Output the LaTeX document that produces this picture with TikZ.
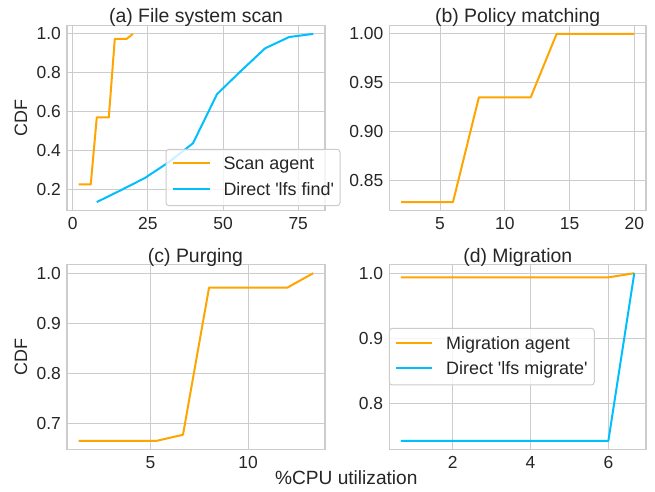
\documentclass[tikz,border=0pt]{standalone}
\usepackage{fontspec}
\setmainfont{Liberation Sans}

\definecolor{gridgray}{HTML}{CCCCCC}
\definecolor{txtgray}{HTML}{262626}
\definecolor{agentorange}{HTML}{FFA500}
\definecolor{directblue}{HTML}{00BFFF}

\begin{document}
\begin{tikzpicture}[
    x=1bp, y=1bp,
    gridline/.style={draw=gridgray, line width=1bp},
    axframe/.style={draw=gridgray, line width=1.25bp},
    agent/.style={draw=agentorange, line width=2bp, line join=round},
    direct/.style={draw=directblue, line width=2bp, line join=round},
    ticklbl/.style={inner sep=0pt, text=txtgray, font=\fontsize{17.5}{20}\selectfont},
    ytick/.style={ticklbl, anchor=east, xshift=-6bp},
    xtick/.style={ticklbl, anchor=base, yshift=-19.2bp},
    paneltitle/.style={inner sep=0pt, anchor=base, text=txtgray, font=\fontsize{19.5}{22}\selectfont},
    legendbox/.style={draw=gridgray, line width=1bp, fill=white, fill opacity=0.8, rounded corners=3bp},
    legendtxt/.style={inner sep=0pt, anchor=base west, text=txtgray, font=\fontsize{18}{21}\selectfont}
  ]
  \fill[white] (0,0) rectangle (655,492);
  \useasboundingbox (0,0) rectangle (655,492);

  % (a) file system scan, x in 0..80
  \begin{scope}[shift={(72.71,263.89)}, x=3.007bp, y=194.2bp]
    \foreach \gx in {0,25,50,75}
      \draw[gridline] (\gx,0.0907) -- (\gx,1.0433);
    \foreach \gy in {0.2,0.4,0.6,0.8,1.0}
      \draw[gridline] (-1.9,\gy) -- (83.9,\gy);
    \draw[axframe] (-1.9,0.0907) rectangle (83.9,1.0433);
    \foreach \gx [count=\i] in {0,25,50,75}
      \node[xtick] (ax\i) at (\gx,0.0907) {\gx};
    \foreach \gy [count=\i] in {0.2,0.4,0.6,0.8,1.0}
      \node[ytick] (ay\i) at (-1.9,\gy) {\gy};
    \draw[agent] (2,0.225) -- (6,0.225) -- (8,0.57) -- (12,0.57)
      -- (14,0.975) -- (18,0.975) -- (20,1.0);
    \draw[direct] (8,0.134) -- (16,0.195) -- (24,0.258) -- (32,0.34)
      -- (40,0.437) -- (48,0.69) -- (56,0.81) -- (64,0.926)
      -- (72,0.984) -- (80,1.0);
  \end{scope}

  % (b) policy matching
  \begin{scope}[shift={(375.25,-516.88)}, x=12.955bp, y=974.97bp]
    \foreach \gx in {5,10,15,20}
      \draw[gridline] (\gx,0.818875) -- (\gx,1.008625);
    \foreach \gy in {0.85,0.90,0.95,1.00}
      \draw[gridline] (1.1,\gy) -- (20.9,\gy);
    \draw[axframe] (1.1,0.818875) rectangle (20.9,1.008625);
    \foreach \gx [count=\i] in {5,10,15,20}
      \node[xtick] (bx\i) at (\gx,0.818875) {\gx};
    \foreach \gy [count=\i] in {0.85,0.90,0.95,1.00}
      \node[ytick] (by\i) at (1.1,\gy) {\gy};
    \draw[agent] (2,0.8275) -- (6,0.8275) -- (8,0.935) -- (12,0.935)
      -- (14,1.0) -- (20,1.0);
  \end{scope}

  % (c) purging
  \begin{scope}[shift={(52.67,-281.4)}, x=19.545bp, y=500.2bp]
    \foreach \gx in {5,10}
      \draw[gridline] (\gx,0.64793) -- (\gx,1.01677);
    \foreach \gy in {0.7,0.8,0.9,1.0}
      \draw[gridline] (0.7333,\gy) -- (13.9333,\gy);
    \draw[axframe] (0.7333,0.64793) rectangle (13.9333,1.01677);
    \foreach \gx [count=\i] in {5,10}
      \node[xtick] (cx\i) at (\gx,0.64793) {\gx};
    \foreach \gy [count=\i] in {0.7,0.8,0.9,1.0}
      \node[ytick] (cy\i) at (0.7333,\gy) {\gy};
    \draw[agent] (1.333,0.665) -- (5.333,0.665) -- (6.667,0.677)
      -- (8,0.971) -- (12,0.971) -- (13.333,1.0);
  \end{scope}

  % (d) migration
  \begin{scope}[shift={(375.0,-431.3)}, x=38.89bp, y=650.1bp]
    \foreach \gx in {2,4,6}
      \draw[gridline] (\gx,0.7291) -- (\gx,1.0129);
    \foreach \gy in {0.8,0.9,1.0}
      \draw[gridline] (0.367,\gy) -- (6.967,\gy);
    \draw[axframe] (0.367,0.7291) rectangle (6.967,1.0129);
    \foreach \gx [count=\i] in {2,4,6}
      \node[xtick] (dx\i) at (\gx,0.7291) {\gx};
    \foreach \gy [count=\i] in {0.8,0.9,1.0}
      \node[ytick] (dy\i) at (0.367,\gy) {\gy};
    \draw[agent] (0.667,0.9935) -- (6,0.9935) -- (6.667,1.0);
    \draw[direct] (0.667,0.742) -- (6,0.742) -- (6.667,1.0);
  \end{scope}

  % legends
  \draw[legendbox] (166,286.3) rectangle (340,342.7);
  \draw[agent] (172.7,328.7) -- (210,328.7);
  \node[legendtxt] (legscan) at (223.3,322.7) {Scan agent};
  \draw[direct] (172.7,302.7) -- (210,302.7);
  \node[legendtxt] (legfind) at (223.3,296.7)
    {Direct \textquotesingle lfs find\textquotesingle};

  \draw[legendbox] (389.3,107) rectangle (594.3,163.7);
  \draw[agent] (396,148.7) -- (431.7,148.7);
  \node[legendtxt] (legmig) at (446,142.7) {Migration agent};
  \draw[direct] (396,123.7) -- (431.7,123.7);
  \node[legendtxt] (legmigdir) at (446,117.7)
    {Direct \textquotesingle lfs migrate\textquotesingle};

  % titles and axis labels
  \node[paneltitle] (ta) at (196,469.3) {(a) File system scan};
  \node[paneltitle] (tb) at (517.7,469.3) {(b) Policy matching};
  \node[paneltitle] (tc) at (195.5,229.3) {(c) Purging};
  \node[paneltitle] (td) at (517.8,229.3) {(d) Migration};

  \node[ticklbl, rotate=90, anchor=base, font=\fontsize{18}{21}\selectfont]
    (cdftop) at (27,374) {CDF};
  \node[ticklbl, rotate=90, anchor=base, font=\fontsize{18}{21}\selectfont]
    (cdfbot) at (27,135) {CDF};
  \node[inner sep=0pt, anchor=base, text=txtgray, font=\fontsize{19.2}{22}\selectfont]
    (cpulbl) at (346.3,7.7) {\%CPU utilization};
\end{tikzpicture}
\end{document}
